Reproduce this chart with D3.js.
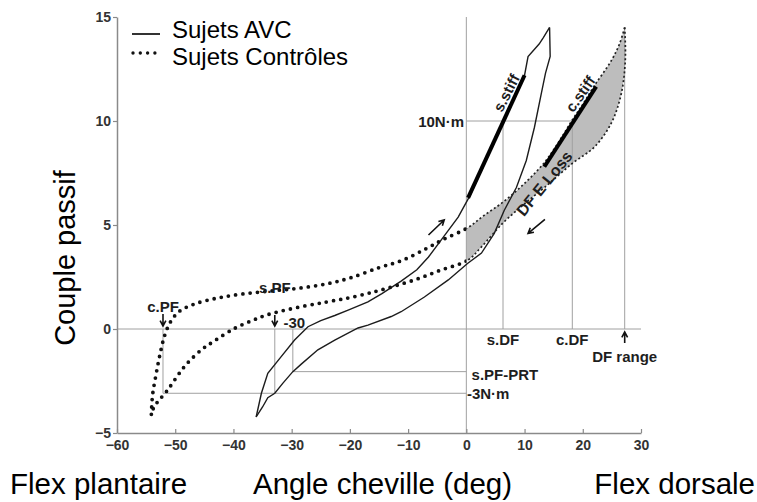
<html>
<head>
<title>Couple passif - angle cheville</title>
<script src="https://d3js.org/d3.v7.min.js"></script>
<style>
  body { margin: 0; background: #fff; }
  text { font-family: "Liberation Sans", Arial, sans-serif; }
</style>
</head>
<body>
<script>
// ---- data (angle deg, torque N.m) ----
var xTicks = [-60, -50, -40, -30, -20, -10, 0, 10, 20, 30];
var yTicks = [-5, 0, 5, 10, 15];
var legendLabels = ["Sujets AVC", "Sujets Contrôles"];

// stroke subjects (solid loop)
var avcLoad = [[-36.1,-4.23],[-35.2,-3.09],[-34.1,-2.13],[-31.8,-1.33],[-29.5,-0.53],[-27.2,0.11],[-25,0.4],
  [-22.6,0.65],[-20.3,0.91],[-16.9,1.3],[-14.5,1.7],[-11.2,2.3],[-8.5,2.85],[-6.5,3.46],[-4.4,4.25],
  [-1.4,5.38],[0.6,6.4],[5,9.1],[10,12.2],[10.6,13.1],[12.5,13.7],[13.2,14.0],[14.3,14.5]];
var avcUnload = [[14.3,14.5],[14.4,13.1],[13.6,12.3],[12.9,11.35],[11.7,9.7],[10.3,8.1],[8.6,6.8],[6.5,5.7],
  [4.8,4.6],[2.6,3.65],[0.2,3.15],[-3.1,2.36],[-7.2,1.54],[-11.2,0.83],[-12.9,0.6],[-16.9,0.19],[-18.6,0.05],
  [-22.6,-0.53],[-25.5,-1.0],[-28.4,-1.7],[-29.8,-2.05],[-31.5,-2.6],[-32.9,-3.09],[-34.1,-3.3],[-35,-3.75],[-36.1,-4.23]];

// control subjects (dotted loop)
var ctrlLoad = [[-54.1,-4.1],[-53.9,-3.2],[-53.3,-2.2],[-52.6,-1.2],[-51.8,-0.3],[-50.8,0.35],[-49.3,0.85],
  [-46.5,1.22],[-42.5,1.5],[-38,1.7],[-33,1.84],[-28.5,1.97],[-24,2.17],[-20,2.45],[-15,2.95],[-11,3.3],
  [-7,3.85],[-4,4.3],[0.2,4.86],[3,5.45],[6.3,6.1],[10,7.0],[13.4,8.0],[16,9.05],[18.2,10.05],[20,10.8],
  [22,11.7],[24.9,12.9],[26.3,13.7],[27.2,14.5]];
var ctrlUnload = [[27.2,14.5],[27.3,12.9],[26.6,11.3],[24.9,9.9],[22,8.75],[18.2,7.96],[13.4,6.8],[9.5,5.9],
  [6.3,5.1],[2.6,3.95],[0.2,3.3],[-4.3,2.84],[-8.9,2.36],[-14.6,1.88],[-16.9,1.71],[-20.3,1.49],[-24,1.3],
  [-28.4,1.07],[-34,0.7],[-36.4,0.45],[-39.8,0.03],[-43.8,-0.67],[-45.5,-1.0],[-48.4,-1.8],[-51.3,-2.93],
  [-53.6,-3.73],[-54.1,-4.1]];

// stiffness segments
var sStiff = [[0.3,6.3],[10,12.2]];
var cStiff = [[13.4,7.8],[22.3,11.65]];

// reference values
var sDF = 6.3, cDF = 18.2, dfRange = 27.2, dfTop = 14.5;
var sPF = -32.9, sPFprt = -29.8, cPF = -52.1;
var prtTorque = -2.05, pfTorque = -3.09, dfTorque = 10;

var width = 757, height = 502;

var svg = d3.select("body").append("svg")
    .attr("width", width)
    .attr("height", height);

var x = d3.scaleLinear().domain([-60, 30]).range([117, 641]);
var y = d3.scaleLinear().domain([-5, 15]).range([433, 17]);

var defs = svg.append("defs");
defs.append("clipPath").attr("id", "plantar").append("rect")
    .attr("x", 0).attr("y", 0).attr("width", x(0)).attr("height", height);
defs.append("clipPath").attr("id", "dorsal").append("rect")
    .attr("x", x(0)).attr("y", 0).attr("width", width - x(0)).attr("height", height);

var smooth = d3.line().x(function(d) { return x(d[0]); }).y(function(d) { return y(d[1]); })
    .curve(d3.curveCatmullRom);
var straight = d3.line().x(function(d) { return x(d[0]); }).y(function(d) { return y(d[1]); });

// shaded DF energy loss (control loop, dorsal side)
svg.append("path")
    .attr("d", smooth(ctrlLoad) + smooth(ctrlUnload).replace(/^M/, "L") + "Z")
    .attr("clip-path", "url(#dorsal)")
    .attr("fill", "#bdbdbd");

// thin reference lines
var refs = [
  [[-60, 0], [30, 0]],
  [[0, -5], [0, 15]],
  [[0, dfTorque], [cDF, dfTorque]],
  [[sDF, 0], [sDF, dfTorque]],
  [[cDF, 0], [cDF, dfTorque]],
  [[dfRange, 0], [dfRange, dfTop]],
  [[sPFprt, prtTorque], [0, prtTorque]],
  [[sPFprt, prtTorque], [sPFprt, 0]],
  [[cPF, pfTorque], [0, pfTorque]],
  [[sPF, pfTorque], [sPF, 0]],
  [[cPF, pfTorque], [cPF, 0]]
];
svg.selectAll(".ref").data(refs).enter().append("path")
    .attr("class", "ref")
    .attr("d", straight)
    .attr("stroke", "#a0a0a0")
    .attr("stroke-width", 1)
    .attr("fill", "none");

// axes
var yAxis = d3.axisLeft(y).tickValues(yTicks).tickSizeInner(4).tickSizeOuter(0).tickPadding(2);
var xAxis = d3.axisBottom(x).tickValues(xTicks).tickSizeInner(-4).tickSizeOuter(0).tickPadding(7);

var gy = svg.append("g").attr("transform", "translate(" + x(-60) + ",0)").call(yAxis);
var gx = svg.append("g").attr("transform", "translate(0," + y(-5) + ")").call(xAxis);
[gx, gy].forEach(function(g) {
  g.select(".domain").attr("stroke", "#8a8a8a").attr("stroke-width", 1.5);
  g.selectAll(".tick line").attr("stroke", "#8a8a8a").attr("stroke-width", 1.2);
  g.selectAll(".tick text").attr("font-size", 14).attr("font-weight", "bold")
      .attr("fill", "#333").style("font-family", "'Liberation Sans', Arial, sans-serif");
});

// stroke subjects loop
[avcLoad, avcUnload].forEach(function(b) {
  svg.append("path").attr("d", straight(b))
      .attr("fill", "none").attr("stroke", "#1c1c1c").attr("stroke-width", 1.4);
});

// control subjects loop: big dots on plantar side, fine dots on dorsal side
[ctrlLoad, ctrlUnload].forEach(function(b) {
  svg.append("path").attr("d", smooth(b)).attr("clip-path", "url(#plantar)")
      .attr("fill", "none").attr("stroke", "#111").attr("stroke-width", 3.8)
      .attr("stroke-linecap", "round").attr("stroke-dasharray", "0,7.3");
  svg.append("path").attr("d", smooth(b)).attr("clip-path", "url(#dorsal)")
      .attr("fill", "none").attr("stroke", "#222").attr("stroke-width", 1.7)
      .attr("stroke-dasharray", "2,2.4");
});

// stiffness lines
[sStiff, cStiff].forEach(function(s) {
  svg.append("path").attr("d", straight(s))
      .attr("stroke", "#000").attr("stroke-width", 4).attr("fill", "none");
});

// arrows
function arrow(x0, y0, x1, y1) {
  var a = Math.atan2(y1 - y0, x1 - x0), h = 6;
  var p = "M" + x0 + "," + y0 + "L" + x1 + "," + y1 +
    "M" + (x1 - h * Math.cos(a - 0.5)) + "," + (y1 - h * Math.sin(a - 0.5)) +
    "L" + x1 + "," + y1 +
    "L" + (x1 - h * Math.cos(a + 0.5)) + "," + (y1 - h * Math.sin(a + 0.5));
  svg.append("path").attr("d", p).attr("fill", "none")
      .attr("stroke", "#111").attr("stroke-width", 1.6);
}
arrow(x(-6.5), y(4.52), x(-3.8), y(5.24));
arrow(x(13.5), y(5.27), x(10.6), y(4.6));
arrow(x(cPF), y(0) - 15, x(cPF), y(0) - 3);
arrow(x(sPF), y(0) - 14, x(sPF), y(0) - 3);
arrow(x(dfRange), y(0) + 14, x(dfRange), y(0) + 3);

// annotation labels
function label(t, px, py, anchor, rot, size) {
  var el = svg.append("text").text(t)
      .attr("font-size", size || 15).attr("font-weight", "bold").attr("fill", "#1e1e1e")
      .attr("text-anchor", anchor || "start");
  if (rot) {
    el.attr("transform", "translate(" + px + "," + py + ") rotate(" + rot + ")").attr("dy", "0.35em");
  } else {
    el.attr("x", px).attr("y", py);
  }
}
label("c.PF", x(cPF), y(0) - 17, "middle");
label("s.PF", x(-32.9), y(1.73), "middle");
label("-30", x(-31.4), y(0) - 1);
label("10N·m", x(-0.4), y(dfTorque) + 6, "end");
label("s.DF", x(sDF), y(0) + 16, "middle");
label("c.DF", x(cDF), y(0) + 16, "middle");
label("DF range", x(dfRange), y(0) + 33, "middle");
label("s.PF-PRT", x(0.9), y(prtTorque) + 8);
label("-3N·m", x(0.1), y(pfTorque) + 6);
label("s.stiff", x(6.9), y(11.35), "middle", -63);
label("c.stiff", x(19.6), y(11.3), "middle", -55);
label("DF E Loss", x(13.4), y(7.0), "middle", -51, 16);

// legend
svg.append("line").attr("x1", 132).attr("x2", 160).attr("y1", 34).attr("y2", 34)
    .attr("stroke", "#333").attr("stroke-width", 2);
svg.append("line").attr("x1", 133).attr("x2", 158).attr("y1", 53).attr("y2", 53)
    .attr("stroke", "#111").attr("stroke-width", 3.4)
    .attr("stroke-linecap", "round").attr("stroke-dasharray", "0,7.3");
svg.selectAll(".leg").data(legendLabels).enter().append("text")
    .attr("x", 172).attr("y", function(d, i) { return 38 + i * 27; })
    .attr("font-size", 24).attr("fill", "#000")
    .text(function(d) { return d; });

// axis titles
svg.append("text").attr("transform", "translate(75,258) rotate(-90)")
    .attr("text-anchor", "middle").attr("font-size", 29).text("Couple passif");
svg.append("text").attr("x", 10).attr("y", 494).attr("font-size", 29.5).text("Flex plantaire");
svg.append("text").attr("x", 253).attr("y", 494).attr("font-size", 29.5).text("Angle cheville (deg)");
svg.append("text").attr("x", 755).attr("y", 494).attr("text-anchor", "end")
    .attr("font-size", 29.5).text("Flex dorsale");
</script>
</body>
</html>
